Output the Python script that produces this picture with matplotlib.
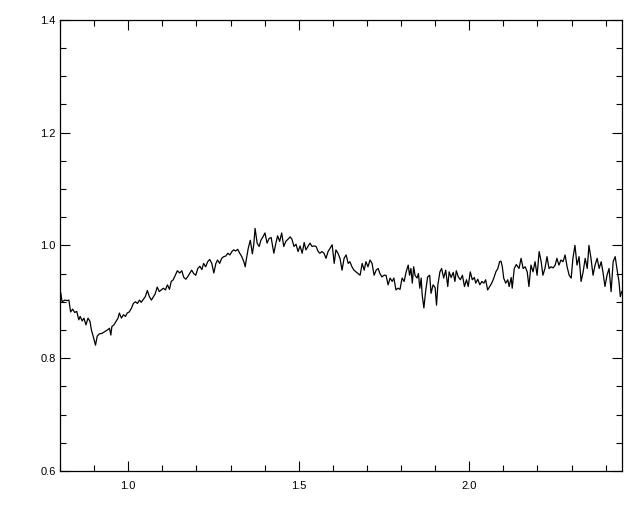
import matplotlib
matplotlib.use("Agg")
import matplotlib.pyplot as plt
from matplotlib.ticker import MultipleLocator

# wavelength (x) and normalised flux (y)
wave = [0.802, 0.806, 0.814, 0.821, 0.826, 0.831, 0.837, 0.843, 0.849, 0.855,
        0.859, 0.865, 0.870, 0.876, 0.882, 0.888, 0.892, 0.898, 0.904, 0.909,
        0.915, 0.923, 0.931, 0.939, 0.945, 0.949, 0.952, 0.958, 0.964, 0.970,
        0.974, 0.980, 0.986, 0.992, 0.997, 1.003, 1.009, 1.015, 1.021, 1.027,
        1.033, 1.038, 1.044, 1.050, 1.056, 1.062, 1.068, 1.074, 1.079, 1.085,
        1.091, 1.097, 1.103, 1.109, 1.115, 1.121, 1.126, 1.132, 1.138, 1.144,
        1.151, 1.157, 1.163, 1.169, 1.174, 1.180, 1.186, 1.192, 1.198, 1.204,
        1.210, 1.216, 1.221, 1.227, 1.233, 1.239, 1.245, 1.251, 1.257, 1.262,
        1.268, 1.274, 1.280, 1.286, 1.292, 1.298, 1.304, 1.309, 1.315, 1.321,
        1.327, 1.333, 1.339, 1.343, 1.346, 1.352, 1.358, 1.364, 1.368, 1.372,
        1.378, 1.384, 1.389, 1.395, 1.401, 1.407, 1.413, 1.419, 1.427, 1.433,
        1.438, 1.444, 1.450, 1.456, 1.462, 1.470, 1.475, 1.480, 1.486, 1.492,
        1.498, 1.504, 1.510, 1.516, 1.521, 1.527, 1.533, 1.539, 1.545, 1.551,
        1.557, 1.562, 1.568, 1.574, 1.580, 1.586, 1.592, 1.598, 1.604, 1.609,
        1.615, 1.621, 1.627, 1.633, 1.639, 1.645, 1.650, 1.656, 1.662, 1.668,
        1.674, 1.680, 1.686, 1.692, 1.697, 1.703, 1.709, 1.715, 1.721, 1.727,
        1.733, 1.738, 1.744, 1.750, 1.756, 1.762, 1.768, 1.774, 1.779, 1.785,
        1.791, 1.797, 1.803, 1.809, 1.815, 1.821, 1.825, 1.829, 1.833, 1.837,
        1.841, 1.847, 1.851, 1.855, 1.859, 1.862, 1.867, 1.872, 1.878, 1.884,
        1.888, 1.894, 1.900, 1.904, 1.908, 1.914, 1.919, 1.925, 1.931, 1.937,
        1.941, 1.947, 1.953, 1.958, 1.962, 1.968, 1.974, 1.980, 1.986, 1.992,
        1.997, 2.003, 2.009, 2.015, 2.019, 2.025, 2.031, 2.037, 2.043, 2.048,
        2.054, 2.060, 2.066, 2.072, 2.078, 2.084, 2.089, 2.093, 2.097, 2.101,
        2.107, 2.113, 2.117, 2.123, 2.126, 2.132, 2.138, 2.146, 2.152, 2.158,
        2.164, 2.170, 2.175, 2.181, 2.187, 2.193, 2.199, 2.205, 2.211, 2.216,
        2.222, 2.228, 2.234, 2.240, 2.246, 2.252, 2.257, 2.263, 2.269, 2.275,
        2.281, 2.287, 2.293, 2.299, 2.304, 2.310, 2.316, 2.322, 2.328, 2.334,
        2.340, 2.346, 2.351, 2.357, 2.363, 2.369, 2.375, 2.381, 2.387, 2.392,
        2.398, 2.404, 2.410, 2.416, 2.422, 2.428, 2.433, 2.439, 2.443, 2.447]

flux = [0.916, 0.900, 0.903, 0.902, 0.903, 0.882, 0.887, 0.881, 0.883, 0.868,
        0.874, 0.866, 0.871, 0.859, 0.871, 0.865, 0.850, 0.837, 0.823, 0.839,
        0.843, 0.844, 0.847, 0.850, 0.853, 0.841, 0.856, 0.859, 0.865, 0.871,
        0.880, 0.871, 0.877, 0.874, 0.880, 0.882, 0.888, 0.897, 0.900, 0.897,
        0.903, 0.899, 0.904, 0.909, 0.920, 0.909, 0.903, 0.909, 0.914, 0.926,
        0.918, 0.921, 0.924, 0.921, 0.930, 0.922, 0.936, 0.939, 0.947, 0.955,
        0.951, 0.955, 0.943, 0.940, 0.944, 0.950, 0.956, 0.950, 0.947, 0.959,
        0.963, 0.957, 0.968, 0.962, 0.971, 0.975, 0.968, 0.951, 0.968, 0.974,
        0.968, 0.977, 0.980, 0.981, 0.986, 0.983, 0.989, 0.992, 0.990, 0.993,
        0.986, 0.980, 0.971, 0.962, 0.974, 0.995, 1.009, 0.985, 1.001, 1.030,
        1.004, 0.998, 1.009, 1.015, 1.022, 1.004, 1.012, 1.014, 0.986, 1.004,
        1.017, 1.007, 1.022, 0.998, 1.007, 1.012, 1.015, 1.011, 0.998, 1.002,
        0.989, 0.999, 0.986, 1.005, 0.992, 0.998, 1.004, 0.998, 0.999, 0.998,
        0.989, 0.986, 0.989, 0.986, 0.977, 0.989, 0.995, 1.001, 0.968, 0.992,
        0.986, 0.977, 0.956, 0.977, 0.983, 0.968, 0.971, 0.962, 0.956, 0.953,
        0.950, 0.947, 0.968, 0.956, 0.971, 0.962, 0.974, 0.968, 0.947, 0.956,
        0.959, 0.950, 0.944, 0.947, 0.947, 0.930, 0.942, 0.936, 0.942, 0.921,
        0.924, 0.922, 0.942, 0.936, 0.953, 0.965, 0.947, 0.959, 0.933, 0.962,
        0.947, 0.942, 0.950, 0.924, 0.942, 0.912, 0.889, 0.918, 0.944, 0.947,
        0.915, 0.930, 0.925, 0.894, 0.930, 0.953, 0.959, 0.942, 0.956, 0.927,
        0.953, 0.943, 0.952, 0.936, 0.955, 0.944, 0.939, 0.947, 0.927, 0.939,
        0.927, 0.953, 0.939, 0.943, 0.933, 0.940, 0.930, 0.936, 0.933, 0.939,
        0.921, 0.927, 0.933, 0.942, 0.953, 0.959, 0.971, 0.972, 0.962, 0.942,
        0.933, 0.939, 0.927, 0.943, 0.924, 0.959, 0.966, 0.959, 0.977, 0.959,
        0.962, 0.953, 0.927, 0.965, 0.953, 0.971, 0.947, 0.989, 0.971, 0.947,
        0.959, 0.980, 0.959, 0.962, 0.960, 0.965, 0.977, 0.965, 0.974, 0.971,
        0.983, 0.962, 0.947, 0.942, 0.977, 1.000, 0.965, 0.980, 0.936, 0.953,
        0.977, 0.959, 1.000, 0.977, 0.947, 0.965, 0.977, 0.959, 0.971, 0.953,
        0.927, 0.947, 0.959, 0.918, 0.971, 0.980, 0.959, 0.936, 0.909, 0.918]

plt.rcParams['font.family'] = ['Liberation Sans', 'DejaVu Sans']

fig = plt.figure(figsize=(6.4, 5.12), dpi=100)
ax = fig.add_axes([0.0938, 0.0801, 0.8781, 0.8814])

ax.plot(wave, flux, color='black', linewidth=0.9)

ax.set_xlim(0.8, 2.448)
ax.set_ylim(0.6, 1.4)

# IDL style ticks: inward, on all four sides
ax.xaxis.set_major_locator(MultipleLocator(0.5))
ax.xaxis.set_minor_locator(MultipleLocator(0.1))
ax.yaxis.set_major_locator(MultipleLocator(0.2))
ax.yaxis.set_minor_locator(MultipleLocator(0.05))
ax.tick_params(which='both', direction='in', top=True, right=True, width=0.8, labelsize=8)
ax.tick_params(which='major', length=7)
ax.tick_params(which='minor', length=4)
ax.tick_params(axis='y', pad=3)
ax.tick_params(axis='x', pad=7)
ax.xaxis.set_major_formatter(plt.FormatStrFormatter('%.1f'))
ax.yaxis.set_major_formatter(plt.FormatStrFormatter('%.1f'))
for s in ax.spines.values():
    s.set_linewidth(0.9)

fig.savefig("out.png", dpi=100)
